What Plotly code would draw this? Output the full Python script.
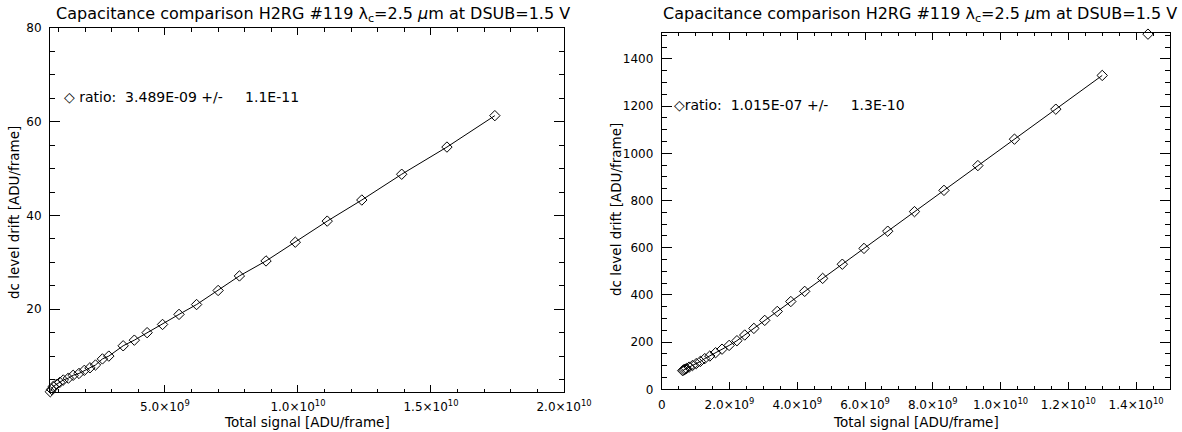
import plotly.graph_objects as go

# ---------------- data ----------------
# Left panel: total signal [ADU/frame] vs dc level drift [ADU/frame]
left_x = [0.69e9, 0.74e9, 0.80e9, 0.93e9, 1.05e9, 1.18e9, 1.37e9, 1.55e9, 1.77e9, 1.97e9,
          2.18e9, 2.39e9, 2.65e9, 2.89e9, 3.43e9, 3.85e9, 4.33e9, 4.91e9, 5.53e9, 6.19e9,
          7.0e9, 7.8e9, 8.8e9, 9.9e9, 1.11e10, 1.24e10, 1.39e10, 1.56e10, 1.74e10]
left_y = [2.4, 2.9, 3.5, 4.0, 4.4, 4.9, 5.3, 5.9, 6.3, 6.96,
          7.5, 8.1, 9.4, 10.0, 12.2, 13.4, 15.0, 16.75, 18.9, 21.0,
          24.0, 27.1, 30.3, 34.3, 38.8, 43.3, 48.8, 54.6, 61.3]

# Right panel
right_x = [0.62e9, 0.65e9, 0.69e9, 0.73e9, 0.81e9, 0.91e9, 1.02e9, 1.14e9, 1.27e9, 1.42e9,
           1.59e9, 1.78e9, 1.99e9, 2.22e9, 2.45e9, 2.72e9, 3.04e9, 3.41e9, 3.81e9, 4.22e9,
           4.75e9, 5.33e9, 5.97e9, 6.67e9, 7.46e9, 8.33e9, 9.33e9, 1.041e10, 1.163e10, 1.30e10]
right_y = [79, 82, 85, 88, 94, 101, 109, 118, 130, 141,
           155, 170, 186, 206, 230, 258, 292, 330, 372, 415,
           470, 530, 597, 670, 753, 843, 948, 1060, 1187, 1330]
right_out_x = [1.435e10]
right_out_y = [1505]

title_text = "Capacitance comparison H2RG #119 λ<sub>c</sub>=2.5 <i>μ</i>m at DSUB=1.5 V"
left_ratio = "ratio:  3.489E-09 +/-     1.1E-11"
right_ratio = "ratio:  1.015E-07 +/-     1.3E-10"

left_xticks = [5e9, 1e10, 1.5e10, 2e10]
left_xlabels = ["5.0×10<sup>9</sup>", "1.0×10<sup>10</sup>", "1.5×10<sup>10</sup>", "2.0×10<sup>10</sup>"]
left_yticks = [20, 40, 60, 80]
right_xticks = [0, 2e9, 4e9, 6e9, 8e9, 1e10, 1.2e10, 1.4e10]
right_xlabels = ["0", "2.0×10<sup>9</sup>", "4.0×10<sup>9</sup>", "6.0×10<sup>9</sup>",
                 "8.0×10<sup>9</sup>", "1.0×10<sup>10</sup>", "1.2×10<sup>10</sup>", "1.4×10<sup>10</sup>"]
right_yticks = [0, 200, 400, 600, 800, 1000, 1200, 1400]

# ---------------- figure ----------------
W, H = 1182, 432
FONT = "DejaVu Sans"

def px_x(p):
    return p / W

def px_y(p):
    return 1 - p / H

fig = go.Figure()

mk = dict(symbol="diamond-open", size=8, color="black", line=dict(width=1, color="black"))
fig.add_trace(go.Scatter(x=left_x, y=left_y, mode="lines+markers", marker=mk,
                         line=dict(color="black", width=1), xaxis="x", yaxis="y",
                         showlegend=False, cliponaxis=False))
fig.add_trace(go.Scatter(x=right_x, y=right_y, mode="lines+markers", marker=mk,
                         line=dict(color="black", width=1), xaxis="x2", yaxis="y2",
                         showlegend=False, cliponaxis=False))
fig.add_trace(go.Scatter(x=right_out_x, y=right_out_y, mode="markers", marker=mk,
                         xaxis="x2", yaxis="y2", showlegend=False, cliponaxis=False))

axis_common = dict(showgrid=False, zeroline=False, showline=True, linecolor="black",
                   linewidth=1, mirror="ticks", ticks="inside", tickcolor="black",
                   tickwidth=1, tickfont=dict(family=FONT, size=12, color="black"),
                   automargin=False, tickmode="array")

L = dict(x0=50, x1=564, y0=392, y1=28)
R = dict(x0=661.7, x1=1170, y0=389.3, y1=32.5)

fig.update_layout(
    width=W, height=H,
    margin=dict(l=0, r=0, t=0, b=0),
    paper_bgcolor="white", plot_bgcolor="white",
    xaxis=dict(axis_common, domain=[px_x(L["x0"]), px_x(L["x1"])], range=[0.68e9, 2e10],
               tickvals=left_xticks, ticktext=left_xlabels, ticklen=7, anchor="y",
               ticklabelstandoff=4,
               minor=dict(tickmode="linear", tick0=0, dtick=1e9, ticks="inside",
                          ticklen=3.5, tickcolor="black", showgrid=False)),
    yaxis=dict(axis_common, domain=[px_y(L["y0"]), px_y(L["y1"])], range=[2.34, 80],
               tickvals=left_yticks, ticklen=10, anchor="x", ticklabelstandoff=5,
               minor=dict(tickmode="linear", tick0=0, dtick=5, ticks="inside",
                          ticklen=5, tickcolor="black", showgrid=False)),
    xaxis2=dict(axis_common, domain=[px_x(R["x0"]), px_x(R["x1"])], range=[0, 1.5e10],
                tickvals=right_xticks, ticktext=right_xlabels, ticklen=7, anchor="y2",
                ticklabelstandoff=4,
                minor=dict(tickmode="linear", tick0=0, dtick=5e8, ticks="inside",
                           ticklen=3.5, tickcolor="black", showgrid=False)),
    yaxis2=dict(axis_common, domain=[px_y(R["y0"]), px_y(R["y1"])], range=[0, 1512],
                tickvals=right_yticks, ticklen=10, anchor="x2", ticklabelstandoff=5,
                minor=dict(tickmode="linear", tick0=0, dtick=50, ticks="inside",
                           ticklen=5, tickcolor="black", showgrid=False)),
)

ann = []
title_font = dict(family=FONT, size=16, color="black")
lab_font = dict(family=FONT, size=13.5, color="black")
leg_font = dict(family=FONT, size=14, color="black")
for (x0, x1, dx) in [(L["x0"], L["x1"], 6), (R["x0"], R["x1"], 4)]:
    cx = (x0 + x1) / 2
    ann.append(dict(text=title_text, x=px_x(cx + dx), y=px_y(14), xref="paper", yref="paper",
                    xanchor="center", yanchor="middle", showarrow=False, font=title_font))
    ann.append(dict(text="Total signal [ADU/frame]", x=px_x(cx), y=px_y(422), xref="paper",
                    yref="paper", xanchor="center", yanchor="middle", showarrow=False,
                    font=lab_font))
ann.append(dict(text="dc level drift [ADU/frame]", x=px_x(14), y=px_y(213), xref="paper",
                yref="paper", xanchor="center", yanchor="middle", showarrow=False,
                textangle=-90, font=lab_font))
ann.append(dict(text="dc level drift [ADU/frame]", x=px_x(616), y=px_y(210), xref="paper",
                yref="paper", xanchor="center", yanchor="middle", showarrow=False,
                textangle=-90, font=lab_font))
ann.append(dict(text="◇ " + left_ratio.replace(" ", "\u00a0"), x=px_x(62), y=px_y(97),
                xref="paper", yref="paper", xanchor="left", yanchor="middle",
                showarrow=False, font=leg_font))
ann.append(dict(text="◇" + right_ratio.replace(" ", "\u00a0"), x=px_x(672), y=px_y(105),
                xref="paper", yref="paper", xanchor="left", yanchor="middle",
                showarrow=False, font=leg_font))
fig.update_layout(annotations=ann)

fig.write_html("out.html", post_script="document.body.style.margin='0px';",
               config={"displayModeBar": False})
